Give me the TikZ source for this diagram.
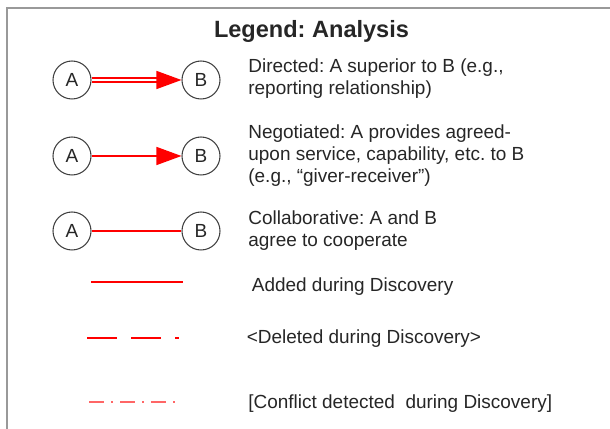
\documentclass[tikz,border=0pt]{standalone}
\usepackage{fontspec}
\setmainfont{Liberation Sans}
\usepackage{tikz}
\usetikzlibrary{positioning,arrows.meta}
\frenchspacing

\begin{document}
\begin{tikzpicture}[
	party/.style={circle,draw=black!75,line width=0.6pt,minimum size=0.76cm,inner sep=0pt,text=black!85,font=\fontsize{10.8}{13}\selectfont},
	legendtext/.style={anchor=west,align=left,inner sep=0pt,text=black!85,font=\fontsize{10.8}{12.5}\selectfont},
	tie/.style={red,line width=0.75pt},
	bigtip/.style={-{Triangle[length=0.5cm,width=0.36cm]}},
	sample/.style={red,line width=1.1pt}
	]
				\useasboundingbox (0,0) rectangle (12.2,-8.58);
				% Frame and title
				\coordinate []  (frameBL) at (0.14,-8.58) ;
				\coordinate []  (frameTL) at (0.14,-0.16) ;
				\coordinate []  (frameTR) at (12.2,-0.16) ;
				\draw[gray!80,line width=0.9pt] (frameBL) -- (frameTL) -- (frameTR) ;
				\node[anchor=base,font=\bfseries\fontsize{13.4}{16}\selectfont,text=black!85] (title) at (6.23,-0.76) {Legend: Analysis};
				% Directed
				\node[party] (A1) at (1.44,-1.6) {A};
				\node[party] (B1) at (4.02,-1.6) {B};
				\draw[tie,double=white,double distance=1.6pt,bigtip] (A1) -- (B1);
				\node[legendtext] (directed) at (4.96,-1.57) {Directed: A superior to B (e.g.,\\reporting relationship)};
				% Negotiated
				\node[party] (A2) at (1.44,-3.12) {A};
				\node[party] (B2) at (4.02,-3.12) {B};
				\draw[tie,bigtip] (A2) -- (B2);
				\node[legendtext] (negotiated) at (4.96,-3.12) {Negotiated: A provides agreed-\\upon service, capability, etc. to B\\(e.g., “giver-receiver”)};
				% Collaborative
				\node[party] (A3) at (1.44,-4.62) {A};
				\node[party] (B3) at (4.02,-4.62) {B};
				\draw[tie] (A3) -- (B3);
				\node[legendtext] (collaborative) at (4.96,-4.61) {Collaborative: A and B\\agree to cooperate};
				% Discovery line styles
				\coordinate []  (added0) at (1.82,-5.64) ;
				\coordinate []  (added1) at (3.66,-5.64) ;
				\coordinate []  (deleted0) at (1.74,-6.76) ;
				\coordinate []  (deleted1) at (3.58,-6.76) ;
				\coordinate []  (conflict0) at (1.78,-8.04) ;
				\coordinate []  (conflict1) at (3.52,-8.04) ;
				\draw[sample] (added0) -- (added1) ;
				\draw[sample,dash pattern=on 0.6cm off 0.28cm] (deleted0) -- (deleted1) ;
				\draw[sample,red!60,dash pattern=on 0.3cm off 0.14cm on 0.04cm off 0.14cm] (conflict0) -- (conflict1) ;
				\node[legendtext] (added) at (5.03,-5.74) {Added during Discovery};
				\node[legendtext] (deleted) at (4.93,-6.78) {<Deleted during Discovery>};
				\node[legendtext] (conflict) at (4.96,-8.08) {[Conflict detected\ \ during Discovery]};
\end{tikzpicture}
\end{document}
